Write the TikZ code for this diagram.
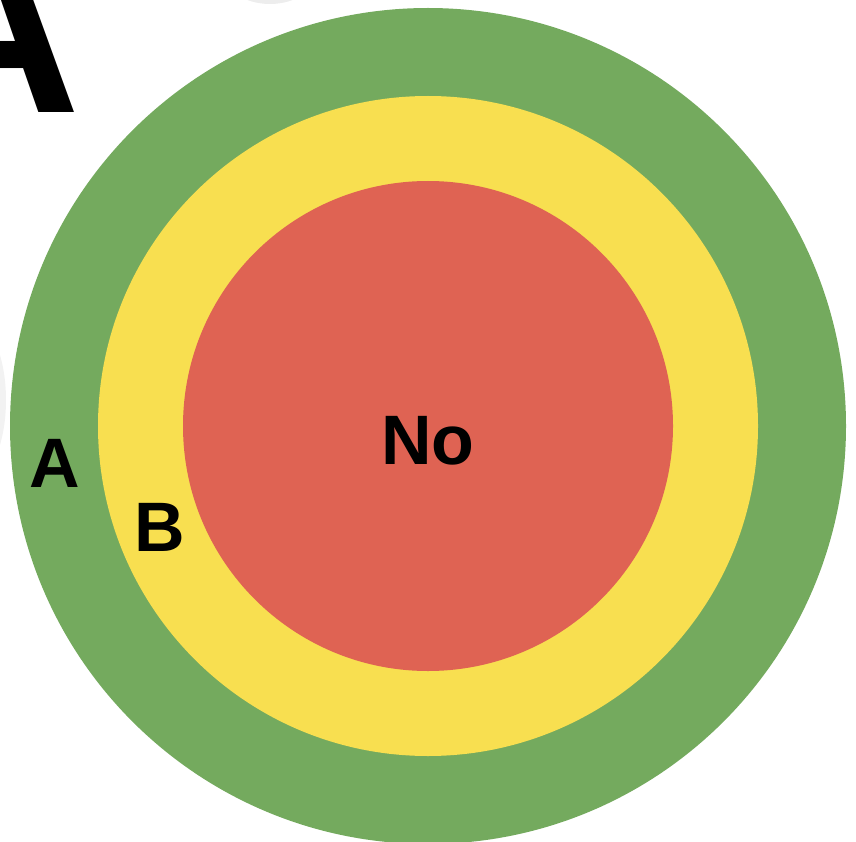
\documentclass[tikz,border=0pt]{standalone}
\usepackage{fontspec}
\setmainfont{Liberation Sans}
\definecolor{ringgreen}{RGB}{116,170,94}
\definecolor{ringyellow}{RGB}{248,223,80}
\definecolor{ringred}{RGB}{223,99,83}
\begin{document}
\begin{tikzpicture}[x=1pt,y=-1pt,
  lbl/.style={inner sep=0pt,font=\fontsize{70}{84}\selectfont\bfseries,text=black}]
\useasboundingbox (0,0) rectangle (856,842);
\clip (0,0) rectangle (856,842);
% faint shadows at edges
\fill[black!7] (270,-30) ellipse[x radius=48, y radius=34];
\fill[black!5] (-34,400) ellipse[x radius=40, y radius=85];
% rings
\fill[ringgreen] (428,426) circle[radius=418];
\fill[ringyellow] (428,426) circle[radius=330];
\fill[ringred] (428,426) circle[radius=245];
% labels
\node[lbl] (no) at (428,441) {No};
\node[lbl] (la) at (54.5,463) {A};
\node[lbl] (lb) at (160,527) {B};
\node[inner sep=0pt,font=\fontsize{250}{300}\selectfont\bfseries,anchor=base east] (big) at (81,113) {A};
\end{tikzpicture}
\end{document}
